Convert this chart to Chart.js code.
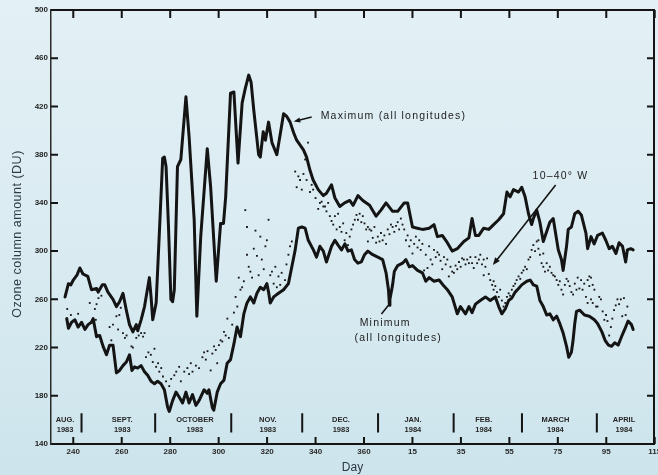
<!DOCTYPE html>
<html>
<head>
<meta charset="utf-8">
<script src="https://cdn.jsdelivr.net/npm/chart.js@4.4.1/dist/chart.umd.min.js"></script>
<style>
  html, body { margin: 0; padding: 0; }
  body {
    width: 658px; height: 475px; overflow: hidden;
    background: linear-gradient(180deg, #e3f0f5 0%, #d9ebf1 55%, #cde4ec 100%);
  }
  canvas { display: block; }
</style>
</head>
<body>
<canvas id="ozone" width="658" height="475"></canvas>
<script>
// Daily ozone column amount (DU), Aug 1983 - Apr 1984.
// Day axis runs continuously: days after 365 belong to 1984 (380 = 15 Jan).

// Maximum over all longitudes: [day, DU]
const maximumAll = [
  [236.6,262],[238,273],[239,272],[240,276],[241.5,280],[242.7,286],[244,281],[246,279],[247.5,268],
  [249.6,269],[250.3,266],[252,272],[253,272],[254.3,266],[256.4,260],[257.8,254],[259.1,258],[260.5,265],
  [261.9,251],[263.2,239],[264.6,233],[266,239],[266.6,234],[268,243],[269.4,254],[271.4,278],[272.1,262],
  [272.8,243],[274.2,257],[275.5,314],[276.9,377],[277.6,378],[278.3,370],[279.3,320],[280.3,260],[281,258],
  [281.7,268],[283,370],[284.4,376],[286.5,428],[287.8,395],[289.9,326],[291,246],[292.6,312],[295.3,385],
  [296.7,353],[299,275],[300.8,323],[302,323],[302.9,345],[304.9,431],[306.3,432],[308,373],[309.7,423],
  [311,435],[312.4,446],[313.4,440],[314.5,417],[316.5,380],[317.2,378],[318.4,399],[319.3,392],[320.6,407],
  [322,390],[324,380],[325.5,398],[326.8,414],[328,412],[329.5,407],[331,398],[332.2,392],[335,384],
  [336.3,378],[337.7,367],[339,359],[341.1,351],[343.2,346],[344.5,348],[346.6,355],[348,344],[350,337],
  [352,340],[354.1,342],[355.5,338],[357.5,346],[359.5,342],[362.3,338],[365,329],[367,334],[369.1,340],
  [371.8,333],[373.9,333],[376.6,340],[378,340],[380,320],[382,319],[384.1,318],[386.9,319],[388.9,322],
  [390.3,312],[392.3,313],[394.4,307],[396.4,300],[398.5,302],[401.2,308],[403.3,311],[404.6,327],[406,313],
  [407.4,313],[409.4,319],[411.5,318],[413.5,322],[415.6,326],[417.6,331],[419,349],[420.3,345],[421.7,351],
  [423.8,349],[425.1,353],[426.5,345],[427.9,331],[429.2,322],[429.9,327],[431.3,334],[432.6,324],[434,308],
  [436.7,324],[438.1,327],[440.2,301],[441.5,293],[442.2,284],[443.6,304],[444.3,318],[445.6,320],[447,331],
  [448.4,333],[449.7,330],[451.6,315],[452.3,302],[453.7,312],[455,306],[456.4,313],[458.4,315],[459.8,309],
  [461.2,302],[462.5,304],[464,298],[465.3,307],[466.7,304],[468,291],[468.7,301],[470.1,302],[471.1,301]
];

// Minimum over all longitudes: [day, DU]
const minimumAll = [
  [237.3,244],[238,236],[239.3,241],[240.7,243],[242,237],[243.4,241],[244.8,235],[246.1,239],[247.5,241],
  [248.2,244],[249.6,229],[250.9,230],[252.3,221],[253.7,214],[255,222],[256.4,222],[257.8,199],[259.1,201],
  [260.5,205],[261.9,208],[263.2,214],[264.2,201],[265.3,204],[266.6,203],[268,205],[269.4,200],[270.7,197],
  [272.1,192],[273.5,190],[274.8,192],[276.2,190],[277.6,185],[278.9,171],[279.6,167],[281,176],[282.4,183],
  [283.7,179],[285.1,174],[286.5,183],[287.8,174],[289.2,181],[290.6,172],[291.9,176],[294,185],[295.3,182],
  [296,185],[297.4,170],[298,168],[299.4,183],[300.8,190],[302.2,193],[303.5,207],[304.9,210],[306.3,223],
  [307.6,237],[309,229],[310.4,248],[311.7,257],[313.1,262],[314.5,257],[315.8,265],[317.2,270],[318.6,268],
  [319.9,273],[320.6,266],[321.3,257],[322.7,262],[324.7,265],[326.8,268],[328.8,273],[330.2,287],[331.6,301],
  [332.9,319],[334.3,320],[335.7,319],[337,309],[339.1,301],[340.4,295],[341.8,304],[343.2,300],[344.5,291],
  [346.6,304],[348,309],[349.3,305],[350.7,301],[352.1,306],[353.4,300],[354.8,301],[356.1,293],[357.5,290],
  [358.9,291],[360.2,297],[361.6,300],[363.6,297],[365.7,295],[367.7,293],[369.1,282],[370.1,268],[370.5,255],
  [370.7,260],[371.8,272],[372.5,283],[373.9,288],[375.9,290],[377.3,293],[378.7,287],[380,288],[382.1,284],
  [384.1,282],[385.5,275],[386.9,278],[388.9,275],[391,276],[393,271],[394.4,268],[396.4,262],[398.5,248],
  [399.8,254],[401.9,248],[403.3,254],[404.6,249],[406,256],[408,259],[410.1,262],[412.1,259],[414.2,262],
  [415.6,254],[416.9,248],[418.3,252],[419.7,259],[421,261],[422.4,266],[423.8,269],[425.1,272],[427.2,275],
  [428.6,276],[429.9,272],[431.3,271],[432.6,259],[434,254],[435.4,247],[436.7,248],[438.1,243],[439.5,246],
  [440.8,240],[442.2,232],[443.6,221],[444.5,212],[445.6,216],[446.3,226],[447,240],[447.7,250],[449,251],
  [451,247],[453,246],[455.1,243],[456.4,240],[458.2,233],[459.5,226],[460.9,222],[462.2,221],[463.5,224],
  [464.9,222],[466.3,229],[467.6,235],[469,242],[470.4,239],[471.1,235]
];

// 10-40 deg W sector: [day, DU]
const sector10to40W = [
  [237.5,252],[239,247],[242,248],[246.8,257],[248.9,252],[249.3,243],[249.6,256],[250.4,261],[251.6,263],
  [255,237],[255.7,226],[256.4,239],[257.8,246],[258.5,235],[259,247],[259.6,253],[260.5,232],[261.3,228],
  [262,230],[264,221],[264.6,220],[266,228],[267,230],[268,232],[268.8,229],[269.4,232],[270,212],[271,216],
  [272,214],[272.8,208],[273.5,219],[274.2,204],[275,207],[275.5,200],[276.3,203],[277,196],[278.3,192],
  [279.6,188],[280.4,194],[281.7,197],[282.5,200],[283.7,204],[284.4,192],[285.8,200],[287.1,203],[287.8,198],
  [288.5,207],[289.2,200],[290.6,205],[291.9,203],[293.3,212],[294,216],[294.7,210],[295.4,217],[296.7,201],
  [297.4,215],[298.1,221],[298.8,218],[299.4,207],[300.1,222],[300.8,226],[301.5,225],[302.2,233],[302.9,230],
  [303.6,244],[304.2,228],[305.6,239],[306.3,249],[307,262],[307.7,254],[308.3,278],[309,268],[309.7,270],
  [310.4,275],[311,334],[311.7,297],[311.7,320],[312.4,287],[313.1,283],[313.8,278],[314.5,302],[315.2,317],
  [315.8,296],[316.5,280],[317.2,312],[317.8,293],[318.6,285],[319.3,304],[319.9,309],[320.6,326],[321.3,280],
  [322,283],[322.7,273],[323.4,287],[324,270],[324.7,279],[325.4,272],[326,282],[326.8,268],[327.4,276],
  [328,289],[328.8,297],[329.5,304],[330.2,308],[331.6,366],[332.2,353],[332.9,362],[333.6,359],[334.3,351],
  [335,364],[335.7,376],[336.3,359],[336.9,390],[337.7,349],[338.4,355],[339,351],[340,344],[341.1,335],
  [341.8,340],[342.5,341],[343.2,337],[343.9,337],[344.5,333],[345.2,340],[345.9,329],[346.6,325],[347.3,322],
  [348,329],[348.7,318],[349.3,331],[350,320],[350.7,316],[351.4,323],[352,309],[352.7,315],[353.4,305],
  [354.1,312],[354.8,318],[355.5,322],[356.2,326],[356.9,330],[357.5,326],[358.2,331],[358.9,324],[359.5,329],
  [360.2,323],[360.9,318],[361.6,320],[361.6,308],[362.3,318],[363,317],[363.6,311],[364.3,320],[365,307],
  [365.7,312],[366.4,308],[367,315],[367.7,309],[368.4,313],[369.1,306],[369.8,318],[370.5,314],[371.1,322],
  [371.8,320],[372.5,316],[373.2,321],[373.9,324],[374.5,318],[375.2,327],[375.9,322],[376.6,318],[377.3,309],
  [378,313],[378.7,304],[379.3,309],[380,298],[380.7,306],[381.4,312],[382.1,303],[382.8,309],[383.4,301],
  [384.1,306],[384.8,284],[385.5,297],[386.2,286],[386.9,304],[387.5,293],[388.2,289],[388.9,301],[389.6,295],
  [390.3,299],[391,297],[391.6,292],[392.3,285],[393,295],[393.7,289],[394.4,293],[395,279],[395.7,287],
  [396.4,283],[397.1,282],[397.8,288],[398.5,285],[399.2,291],[399.9,287],[400.5,294],[401.2,293],[401.9,289],
  [402.6,293],[403.3,290],[403.9,295],[404.6,290],[405.3,286],[406,295],[406.7,290],[407.4,293],[408,297],
  [408.7,289],[409.4,293],[409.4,280],[410.1,287],[410.8,294],[411.5,281],[412.1,276],[412.9,272],[413.5,275],
  [413.5,268],[414.2,271],[414.9,266],[415.6,262],[416.2,268],[416.9,259],[417.6,254],[418.3,257],[419,262],
  [419.7,265],[420.3,263],[421,268],[421.7,271],[422.4,273],[423,276],[423.8,279],[424.5,277],[425.1,282],
  [425.8,284],[426.5,287],[427.2,285],[427.9,293],[428.6,295],[429.2,301],[429.9,305],[430.6,300],[431.3,308],
  [432,309],[432,302],[432.6,297],[433.3,290],[434,298],[434,287],[434.7,283],[435.4,290],[436,284],
  [436.7,287],[437.4,282],[438.1,280],[438.8,279],[439.5,276],[440.2,272],[440.8,275],[441.5,268],[442.2,264],
  [442.9,272],[443.6,277],[444.3,275],[444.9,271],[445.6,266],[446.3,264],[447,273],[447.7,268],[448.2,278],
  [448.9,269],[449.6,276],[450.2,268],[450.9,273],[451.6,262],[452.3,276],[452.3,257],[453,279],[453,271],
  [453.7,278],[453.7,260],[454.4,272],[454.4,257],[455.1,268],[455.8,254],[456.4,254],[457.1,262],[457.8,260],
  [458.5,250],[459.2,243],[459.9,247],[460.5,242],[461.2,230],[461.9,237],[462.5,244],[463.2,251],[463.9,255],
  [464.6,260],[465.3,256],[466,260],[466.6,246],[467.3,261],[468,247],[468.7,254]
];

// Axis ticks
const dayTicks = [240, 260, 280, 300, 320, 340, 360, 380, 400, 420, 440, 460, 480];
const dayTickLabels = ['240', '260', '280', '300', '320', '340', '360', '15', '35', '55', '75', '95', '115'];
const duTicks = [140, 180, 220, 260, 300, 340, 380, 420, 460, 500];

// Month strip along the bottom of the plot
const monthNames = ['AUG.', 'SEPT.', 'OCTOBER', 'NOV.', 'DEC.', 'JAN.', 'FEB.', 'MARCH', 'APRIL'];
const monthYears = ['1983', '1983', '1983', '1983', '1983', '1984', '1984', '1984', '1984'];
const monthCentres = [236.6, 260.2, 290.2, 320.3, 350.5, 380.2, 409.4, 439, 467.3];
const monthBreaks = [243.4, 273.8, 305.2, 334.5, 365.8, 397, 425.2, 456.1];

const INK = '#141414';
const TEXT = '#1c1c1c';

const toXY = arr => arr.map(p => ({ x: p[0], y: p[1] }));

function arrow(ctx, x1, y1, x2, y2, head) {
  const ang = Math.atan2(y2 - y1, x2 - x1);
  ctx.beginPath();
  ctx.moveTo(x1, y1);
  ctx.lineTo(x2 - Math.cos(ang) * head * 0.6, y2 - Math.sin(ang) * head * 0.6);
  ctx.stroke();
  ctx.beginPath();
  ctx.moveTo(x2, y2);
  ctx.lineTo(x2 - head * Math.cos(ang - 0.38), y2 - head * Math.sin(ang - 0.38));
  ctx.lineTo(x2 - head * Math.cos(ang + 0.38), y2 - head * Math.sin(ang + 0.38));
  ctx.closePath();
  ctx.fill();
}

// Frame, inward tick marks, month strip, labels and pointers
const decorations = {
  id: 'decorations',
  afterDraw(chart) {
    const { ctx, chartArea: a, scales: { x, y } } = chart;
    ctx.save();
    ctx.strokeStyle = INK;
    ctx.fillStyle = INK;
    ctx.lineWidth = 2;

    // top and right edges of the frame
    ctx.beginPath();
    ctx.moveTo(a.left, a.top);
    ctx.lineTo(a.right, a.top);
    ctx.lineTo(a.right, a.bottom);
    ctx.stroke();

    // inward ticks
    ctx.beginPath();
    dayTicks.forEach(d => {
      const px = x.getPixelForValue(d);
      ctx.moveTo(px, a.bottom); ctx.lineTo(px, a.bottom - 7);
      ctx.moveTo(px, a.top); ctx.lineTo(px, a.top + 8);
    });
    duTicks.slice(1, -1).forEach(v => {
      const py = y.getPixelForValue(v);
      ctx.moveTo(a.left, py); ctx.lineTo(a.left + 7, py);
      ctx.moveTo(a.right, py); ctx.lineTo(a.right - 7, py);
    });
    ctx.stroke();

    // month separators
    ctx.beginPath();
    monthBreaks.forEach(d => {
      const px = x.getPixelForValue(d);
      ctx.moveTo(px, y.getPixelForValue(165.5));
      ctx.lineTo(px, y.getPixelForValue(149.5));
    });
    ctx.stroke();

    // month names
    ctx.fillStyle = '#262626';
    ctx.textAlign = 'center';
    ctx.textBaseline = 'middle';
    ctx.font = 'bold 7.5px "Liberation Sans", Arial, sans-serif';
    monthNames.forEach((m, i) => {
      const px = x.getPixelForValue(monthCentres[i]);
      ctx.fillText(m, px, y.getPixelForValue(159.9));
      ctx.fillText(monthYears[i], px, y.getPixelForValue(151.6));
    });

    // vertical axis title
    ctx.save();
    ctx.fillStyle = '#2e3c46';
    ctx.font = '12.5px "Liberation Sans", Arial, sans-serif';
    ctx.letterSpacing = '0.5px';
    ctx.translate(18, (a.top + a.bottom) / 2 + 7);
    ctx.rotate(-Math.PI / 2);
    ctx.fillText('Ozone column amount (DU)', 0, 0);
    ctx.restore();

    // series labels
    ctx.fillStyle = TEXT;
    ctx.textAlign = 'left';
    ctx.font = '10.5px "Liberation Sans", Arial, sans-serif';
    ctx.letterSpacing = '1.2px';
    ctx.fillText('Maximum (all longitudes)', x.getPixelForValue(342.1), y.getPixelForValue(412.1));
    ctx.fillText('10\u201340\u00b0 W', x.getPixelForValue(429.6), y.getPixelForValue(362.3));
    ctx.fillText('Minimum', x.getPixelForValue(358.2), y.getPixelForValue(240.4));
    ctx.fillText('(all longitudes)', x.getPixelForValue(356.1), y.getPixelForValue(227.9));
    ctx.letterSpacing = '0px';

    // pointers
    ctx.fillStyle = INK;
    ctx.lineWidth = 1.6;
    arrow(ctx, x.getPixelForValue(338.4), y.getPixelForValue(411.2),
               x.getPixelForValue(331.0), y.getPixelForValue(407.5), 7);
    arrow(ctx, x.getPixelForValue(439.1), y.getPixelForValue(354.8),
               x.getPixelForValue(413.2), y.getPixelForValue(288.5), 8);
    ctx.beginPath();
    ctx.moveTo(x.getPixelForValue(367.2), y.getPixelForValue(247.8));
    ctx.lineTo(x.getPixelForValue(370.5), y.getPixelForValue(256.1));
    ctx.stroke();

    ctx.restore();
  }
};

const lineStyle = {
  showLine: true,
  borderColor: INK,
  borderWidth: 3,
  pointRadius: 0,
  tension: 0,
  borderJoinStyle: 'round',
  borderCapStyle: 'round'
};

new Chart(document.getElementById('ozone'), {
  type: 'scatter',
  data: {
    datasets: [
      {
        label: '10\u201340\u00b0 W',
        data: toXY(sector10to40W),
        showLine: false,
        pointStyle: 'rect',
        pointRadius: 1.3,
        backgroundColor: '#161616',
        borderWidth: 0
      },
      Object.assign({ label: 'Maximum (all longitudes)', data: toXY(maximumAll) }, lineStyle),
      Object.assign({ label: 'Minimum (all longitudes)', data: toXY(minimumAll) }, lineStyle)
    ]
  },
  options: {
    responsive: false,
    animation: false,
    devicePixelRatio: 1,
    layout: { padding: { left: 0, right: 1, top: 10, bottom: 0 } },
    plugins: { legend: { display: false }, tooltip: { enabled: false } },
    scales: {
      x: {
        type: 'linear',
        min: 230.8,
        max: 479.7,
        afterBuildTicks: s => { s.ticks = dayTicks.map(v => ({ value: v })); },
        ticks: {
          autoSkip: false,
          maxRotation: 0,
          padding: 3,
          color: '#2a2a2a',
          font: { family: '"Liberation Sans", Arial, sans-serif', size: 8, weight: 'bold' },
          callback: v => dayTickLabels[dayTicks.indexOf(v)]
        },
        grid: { display: false, drawTicks: false },
        border: { display: true, color: INK, width: 2 },
        title: {
          display: true,
          text: 'Day',
          color: '#2b3842',
          padding: { top: 0, bottom: 0 },
          font: { family: '"Liberation Sans", Arial, sans-serif', size: 12 }
        },
        afterFit: s => { s.height = 31; s.paddingLeft = 0; s.paddingRight = 0; }
      },
      y: {
        min: 140,
        max: 500,
        afterBuildTicks: s => { s.ticks = duTicks.map(v => ({ value: v })); },
        ticks: {
          padding: 3,
          color: '#222',
          font: { family: '"Liberation Sans", Arial, sans-serif', size: 8, weight: 'bold' }
        },
        grid: { display: false, drawTicks: false },
        border: { display: true, color: '#2a2a2a', width: 1.5 },
        afterFit: s => { s.width = 51; s.paddingTop = 0; s.paddingBottom = 0; }
      }
    }
  },
  plugins: [decorations]
});
</script>
</body>
</html>
